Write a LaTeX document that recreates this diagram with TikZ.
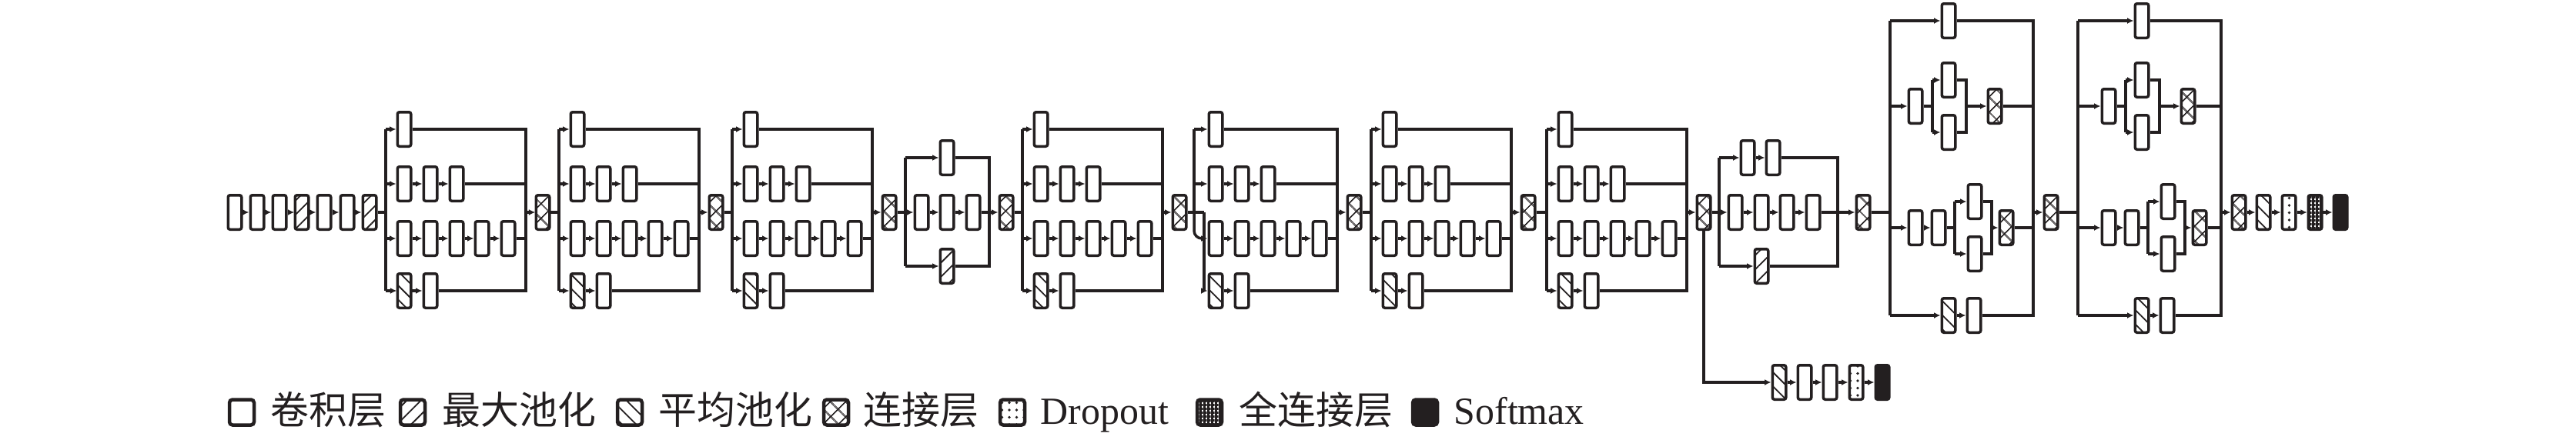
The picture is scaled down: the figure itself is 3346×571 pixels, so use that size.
\documentclass[tikz,border=0pt]{standalone}
\usepackage{fontspec}
\setmainfont{Liberation Serif}
\newfontfamily\cjk{Noto Sans CJK SC}
\usetikzlibrary{arrows.meta,patterns.meta}
\definecolor{ink}{HTML}{231F20}

% block with four branches: name, upper split x, lower split x, first box x
\newcommand{\incA}[4]{%
  \node[conv] (#1-1-1) at (#4,168) {};
  \foreach \i/\dx in {1/0,2/34,3/68} \node[conv] (#1-2-\i) at (#4+\dx,239) {};
  \foreach \i/\dx in {1/0,2/34,3/68,4/101,5/135} \node[conv] (#1-3-\i) at (#4+\dx,310) {};
  \node[avgpool] (#1-4-1) at (#4,378) {};
  \node[conv] (#1-4-2) at (#4+34,378) {};
  \node[concat] (#1-c) at (#4+180,276) {};
  \coordinate (#1-s) at (#3,276);
  \coordinate (#1-t) at (#2,276);
  \coordinate (#1-s1) at (#2,168);
  \coordinate (#1-s2) at (#2,239);
  \coordinate (#1-s3) at (#3,310);
  \coordinate (#1-s4) at (#3,378);
  \coordinate (#1-m) at (#4+158,276);
  \coordinate (#1-m1) at (#4+158,168);
  \coordinate (#1-m2) at (#4+158,239);
  \coordinate (#1-m3) at (#4+158,310);
  \coordinate (#1-m4) at (#4+158,378);
  \draw (#1-s1) -- (#1-t);
  \draw (#1-s) -- (#1-s4);
  \draw[arr] (#1-s1) -- (#1-1-1);
  \draw[arr] (#1-s2) -- (#1-2-1);
  \draw[arr] (#1-s3) -- (#1-3-1);
  \draw[arr] (#1-s4) -- (#1-4-1);
  \foreach \i/\j in {1/2,2/3} \draw[arr] (#1-2-\i) -- (#1-2-\j);
  \foreach \i/\j in {1/2,2/3,3/4,4/5} \draw[arr] (#1-3-\i) -- (#1-3-\j);
  \draw[arr] (#1-4-1) -- (#1-4-2);
  \draw (#1-1-1) -- (#1-m1) -- (#1-m4) -- (#1-4-2);
  \draw (#1-2-3) -- (#1-m2);
  \draw (#1-3-5) -- (#1-m3);
  \draw[arr] (#1-m) -- (#1-c);
}

% block with split branches: name, split x, shift of the inner boxes
\newcommand{\incC}[3]{%
  \node[conv] (#1-1) at (#2+76+#3,27) {};
  \node[conv] (#1-2-1) at (#2+33+#3,138) {};
  \node[conv] (#1-2-u) at (#2+76+#3,104) {};
  \node[conv] (#1-2-d) at (#2+76+#3,172) {};
  \node[concat] (#1-2-c) at (#2+136+#3,138) {};
  \node[conv] (#1-3-1) at (#2+33+#3,296) {};
  \node[conv] (#1-3-2) at (#2+63+#3,296) {};
  \node[conv] (#1-3-u) at (#2+110+#3,262) {};
  \node[conv] (#1-3-d) at (#2+110+#3,330) {};
  \node[concat] (#1-3-c) at (#2+151+#3,296) {};
  \node[avgpool] (#1-4-1) at (#2+76+#3,410) {};
  \node[conv] (#1-4-2) at (#2+109+#3,410) {};
  \node[concat] (#1-c) at (#2+209,276) {};
  \coordinate (#1-s) at (#2,276);
  \coordinate (#1-s1) at (#2,27);
  \coordinate (#1-s2) at (#2,138);
  \coordinate (#1-s3) at (#2,296);
  \coordinate (#1-s4) at (#2,410);
  \coordinate (#1-m) at (#2+186,276);
  \coordinate (#1-m1) at (#2+186,27);
  \coordinate (#1-m2) at (#2+186,138);
  \coordinate (#1-m3) at (#2+186,296);
  \coordinate (#1-m4) at (#2+186,410);
  \coordinate (#1-2-sm) at (#2+55+#3,138);
  \coordinate (#1-2-su) at (#2+55+#3,104);
  \coordinate (#1-2-sd) at (#2+55+#3,172);
  \coordinate (#1-2-mm) at (#2+99+#3,138);
  \coordinate (#1-2-mu) at (#2+99+#3,104);
  \coordinate (#1-2-md) at (#2+99+#3,172);
  \coordinate (#1-3-sm) at (#2+84+#3,296);
  \coordinate (#1-3-su) at (#2+84+#3,262);
  \coordinate (#1-3-sd) at (#2+84+#3,330);
  \coordinate (#1-3-mm) at (#2+132+#3,296);
  \coordinate (#1-3-mu) at (#2+132+#3,262);
  \coordinate (#1-3-md) at (#2+132+#3,330);
  \draw (#1-s1) -- (#1-s4);
  \draw[arr] (#1-s1) -- (#1-1);
  \draw[arr] (#1-s2) -- (#1-2-1);
  \draw[arr] (#1-s3) -- (#1-3-1);
  \draw[arr] (#1-s4) -- (#1-4-1);
  \draw[arr] (#1-3-1) -- (#1-3-2);
  \draw[arr] (#1-4-1) -- (#1-4-2);
  \draw (#1-2-1) -- (#1-2-sm);
  \draw (#1-3-2) -- (#1-3-sm);
  \foreach \r in {2,3} {
    \draw (#1-\r-su) -- (#1-\r-sd);
    \draw[arr] (#1-\r-su) -- (#1-\r-u);
    \draw[arr] (#1-\r-sd) -- (#1-\r-d);
    \draw (#1-\r-u) -- (#1-\r-mu) -- (#1-\r-md) -- (#1-\r-d);
    \draw[arr] (#1-\r-mm) -- (#1-\r-c);
  }
  \draw (#1-1) -- (#1-m1) -- (#1-m4) -- (#1-4-2);
  \draw (#1-2-c) -- (#1-m2);
  \draw (#1-3-c) -- (#1-m3);
  \draw[arr] (#1-m) -- (#1-c);
}

\begin{document}
\begin{tikzpicture}[x=0.1mm, y=-0.1mm, line width=0.35mm, color=ink,
  blk/.style={draw, rounded corners=0.25mm, minimum width=1.75mm, minimum height=4.45mm, inner sep=0},
  conv/.style={blk},
  maxpool/.style={blk, pattern={Lines[angle=45,distance=1.3mm,line width=0.18mm]}, pattern color=ink},
  avgpool/.style={blk, pattern={Lines[angle=-45,distance=1.3mm,line width=0.18mm]}, pattern color=ink},
  concat/.style={blk, pattern={Hatch[angle=45,distance=1.4mm,line width=0.18mm]}, pattern color=ink},
  dropout/.style={blk, pattern={Dots[radius=0.18mm,distance=0.95mm]}, pattern color=ink},
  fc/.style={blk, pattern={Hatch[angle=0,distance=0.5mm,line width=0.3mm]}, pattern color=ink},
  softmax/.style={blk, fill=ink},
  arr/.style={-{Latex[length=0.85mm,width=0.8mm]}},
  lgd/.style={minimum width=3.2mm, minimum height=3.3mm, line width=0.45mm, rounded corners=0.4mm},
  txt/.style={anchor=base west, inner sep=0, font=\fontsize{14.2}{17}\selectfont}]
\useasboundingbox (0,0) rectangle (3346,571);

% stem
\node[conv] (s1) at (305,276) {};
\node[conv] (s2) at (334,276) {};
\node[conv] (s3) at (363,276) {};
\node[maxpool] (s4) at (392,276) {};
\node[conv] (s5) at (421,276) {};
\node[conv] (s6) at (451,276) {};
\node[maxpool] (s7) at (480,276) {};
\foreach \i/\j in {1/2,2/3,3/4,4/5,5/6,6/7} \draw[arr] (s\i) -- (s\j);

% first three blocks
\incA{a1}{501}{501}{525}
\incA{a2}{726}{726}{750}
\incA{a3}{951}{951}{975}
\draw (s7) -- (a1-s);
\draw (a1-c) -- (a2-s);
\draw (a2-c) -- (a3-s);

% reduction
\node[conv] (ra-1) at (1230,205) {};
\node[conv] (ra-2-1) at (1197,276) {};
\node[conv] (ra-2-2) at (1230,276) {};
\node[conv] (ra-2-3) at (1264,276) {};
\node[maxpool] (ra-3) at (1230,346) {};
\node[concat] (ra-c) at (1307,276) {};
\coordinate (ra-s) at (1176,276);
\coordinate (ra-s1) at (1176,205);
\coordinate (ra-s3) at (1176,346);
\coordinate (ra-m1) at (1285,205);
\coordinate (ra-m3) at (1285,346);
\draw (a3-c) -- (ra-s);
\draw (ra-s1) -- (ra-s3);
\draw[arr] (ra-s1) -- (ra-1);
\draw[arr] (ra-s) -- (ra-2-1);
\draw[arr] (ra-s3) -- (ra-3);
\draw[arr] (ra-2-1) -- (ra-2-2);
\draw[arr] (ra-2-2) -- (ra-2-3);
\draw (ra-1) -- (ra-m1) -- (ra-m3) -- (ra-3);
\draw[arr] (ra-2-3) -- (ra-c);

% next four blocks
\incA{b1}{1328}{1328}{1352}
\incA{b2}{1551}{1564}{1579}
\incA{b3}{1781}{1781}{1805}
\incA{b4}{2009}{2009}{2033}
\draw (ra-c) -- (b1-s);
\draw (b1-c) -- (b2-s);
\draw[rounded corners=1mm] (b2-t) -- (1551,310) -- (b2-s3);
\draw (b2-c) -- (b3-s);
\draw (b3-c) -- (b4-s);

% side output
\node[avgpool] (x1) at (2311,497) {};
\node[conv] (x2) at (2344,497) {};
\node[conv] (x3) at (2377,497) {};
\node[dropout] (x4) at (2411,497) {};
\node[softmax] (x5) at (2445,497) {};
\coordinate (x0) at (2213,497);
\draw[arr] (b4-c) -- (x0) -- (x1);
\foreach \i/\j in {1/2,2/3,3/4,4/5} \draw[arr] (x\i) -- (x\j);

% second reduction
\node[conv] (rb-1-1) at (2270,205) {};
\node[conv] (rb-1-2) at (2303,205) {};
\node[conv] (rb-2-1) at (2254,276) {};
\node[conv] (rb-2-2) at (2288,276) {};
\node[conv] (rb-2-3) at (2321,276) {};
\node[conv] (rb-2-4) at (2355,276) {};
\node[maxpool] (rb-3) at (2288,346) {};
\node[concat] (rb-c) at (2420,276) {};
\coordinate (rb-s) at (2233,276);
\coordinate (rb-s1) at (2233,205);
\coordinate (rb-s3) at (2233,346);
\coordinate (rb-m1) at (2387,205);
\coordinate (rb-m3) at (2387,346);
\draw (b4-c) -- (rb-s);
\draw (rb-s1) -- (rb-s3);
\draw[arr] (rb-s1) -- (rb-1-1);
\draw[arr] (rb-s) -- (rb-2-1);
\draw[arr] (rb-s3) -- (rb-3);
\draw[arr] (rb-1-1) -- (rb-1-2);
\foreach \i/\j in {1/2,2/3,3/4} \draw[arr] (rb-2-\i) -- (rb-2-\j);
\draw (rb-1-2) -- (rb-m1) -- (rb-m3) -- (rb-3);
\draw[arr] (rb-2-4) -- (rb-c);

% last two blocks
\incC{c1}{2455}{0}
\incC{c2}{2699}{7}
\draw (rb-c) -- (c1-s);
\draw (c1-c) -- (c2-s);

% head
\node[avgpool] (h1) at (2940,276) {};
\node[dropout] (h2) at (2973,276) {};
\node[fc] (h3) at (3007,276) {};
\node[softmax] (h4) at (3040,276) {};
\draw[arr] (c2-c) -- (h1);
\foreach \i/\j in {1/2,2/3,3/4} \draw[arr] (h\i) -- (h\j);

% legend
\node[conv,lgd] (l1) at (314,536) {};
\node[txt] (l1t) at (350,551) {\cjk 卷积层};
\node[maxpool,lgd] (l2) at (536,536) {};
\node[txt] (l2t) at (573,551) {\cjk 最大池化};
\node[avgpool,lgd] (l3) at (818,536) {};
\node[txt] (l3t) at (854,551) {\cjk 平均池化};
\node[concat,lgd] (l4) at (1086,536) {};
\node[txt] (l4t) at (1120,551) {\cjk 连接层};
\node[dropout,lgd] (l5) at (1315,536) {};
\node[txt] (l5t) at (1350,551) {Dropout};
\node[fc,lgd] (l6) at (1571,536) {};
\node[txt] (l6t) at (1608,551) {\cjk 全连接层};
\node[softmax,lgd] (l7) at (1851,536) {};
\node[txt] (l7t) at (1887,551) {Softmax};

\end{tikzpicture}
\end{document}
